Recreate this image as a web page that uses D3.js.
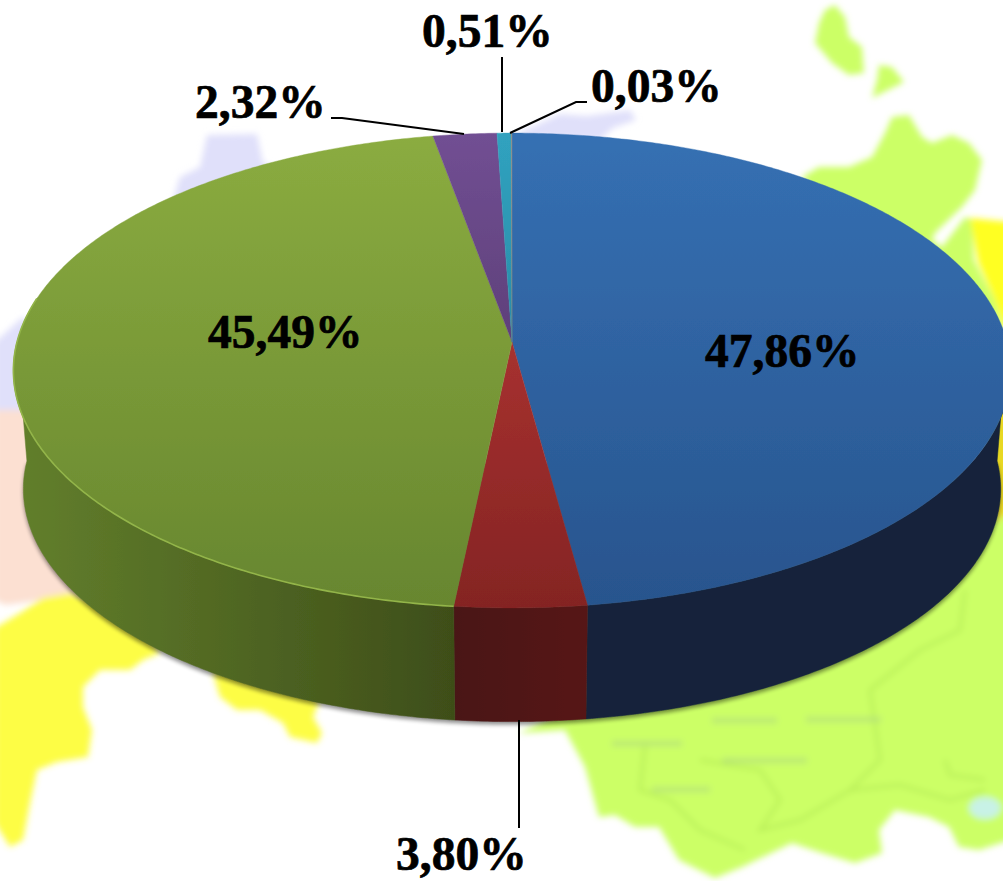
<!DOCTYPE html>
<html>
<head>
<meta charset="utf-8">
<script src="https://cdn.jsdelivr.net/npm/d3@7"></script>
<style>
  html, body { margin: 0; padding: 0; background: #fff; overflow: hidden; }
  svg { display: block; }
  text { font-family: "Liberation Serif", serif; font-weight: bold; fill: #000; stroke: #000; stroke-width: 0.7; }
</style>
</head>
<body>
<div id="chart"></div>
<script>
// Chart data
const sliceNames = ["blue", "red", "green", "purple", "cyan", "grey"];
const sliceValues = [47.86, 3.80, 45.49, 2.32, 0.51, 0.03];

// Colours: top face (far edge, near edge) and side wall (left, right)
const topFar = ["#3570b3", "#c23b39", "#8bac40", "#714f93", "#30a2bf", "#8c8c84"];
const topNear = ["#28548d", "#842423", "#67862f", "#472c5a", "#23708a", "#6f6f68"];
const sideLeft = ["#12233a", "#4a1412", "#627f2c", "#333", "#333", "#333"];
const sideRight = ["#12233a", "#561816", "#3e4e19", "#333", "#333", "#333"];

// Label layout: anchor x, baseline y, leader polyline
const labelSize = 47.5;
const labelLayout = [
  { x: 705, y: 367, leader: null },
  { x: 396, y: 870, leader: [[519, 720], [519, 828]] },
  { x: 208, y: 348, leader: null },
  { x: 195, y: 118, leader: [[331, 118], [342, 118], [464, 134]] },
  { x: 422, y: 47, leader: [[502, 57], [502, 132]] },
  { x: 591, y: 102, leader: [[510, 133], [576, 102], [587, 102]] }
];

const width = 1003, height = 881;

// Perspective model of the tilted disc
const centre = { x: 512, y: 342 };
const persp = -0.12;
const radiusX = 495, radiusY = 234;
const wallDrop = 119, wallScale = 0.98;

function project(angle, drop = 0, scale = 1) {
    const u = Math.sin(angle), t = -Math.cos(angle);
    const w = 1 + persp * t;
    return [centre.x + radiusX * scale * u / w, centre.y + drop + radiusY * scale * t / w];
}

function rim(a0, a1, drop, scale) {
    const n = Math.max(2, Math.ceil((a1 - a0) / 0.01));
    return d3.range(n + 1).map((i) => project(a0 + (a1 - a0) * i / n, drop, scale));
}

const svg = d3.select("#chart").append("svg")
    .attr("width", width)
    .attr("height", height);
const defs = svg.append("defs");

defs.append("filter").attr("id", "mapBlur")
    .attr("x", "-5%").attr("y", "-5%").attr("width", "110%").attr("height", "110%")
    .append("feGaussianBlur").attr("stdDeviation", 3);
defs.append("filter").attr("id", "shadowBlur")
    .attr("x", "-5%").attr("y", "-5%").attr("width", "110%").attr("height", "110%")
    .append("feGaussianBlur").attr("stdDeviation", 2);
defs.append("filter").attr("id", "soft")
    .attr("x", "-2%").attr("y", "-2%").attr("width", "104%").attr("height", "104%")
    .append("feGaussianBlur").attr("stdDeviation", 0.5);

// Faded map behind the pie
const mapShapes = [
    { fill: "#e0e0fa", pts: [[173,200],[180,177],[200,167],[207,135],[257,134],[263,163],[300,175],[230,230]] },
    { fill: "#e0e0fa", pts: [[512,136],[560,114],[587,116],[630,110],[636,120],[613,128],[600,140]] },
    { fill: "#e0e0fa", pts: [[-5,342],[23,317],[40,330],[30,420],[-5,420]] },
    { fill: "#fce0d2", pts: [[-5,410],[30,410],[40,480],[90,590],[72,600],[43,600],[5,605],[-5,600]] },
    { fill: "#fdfd45", pts: [[-5,628],[20,613],[43,598],[72,593],[140,620],[160,653],[143,660],[130,670],[100,670],[83,687],[83,707],[92,730],[88,757],[57,762],[37,770],[30,803],[23,840],[10,847],[-5,823]] },
    { fill: "#fdfd45", pts: [[213,673],[220,697],[237,710],[260,710],[283,723],[290,737],[317,743],[322,733],[313,717],[320,700],[250,650]] },
    { fill: "#ccff66", pts: [[835,5],[845,17],[849,37],[862,47],[864,73],[849,75],[832,63],[815,43],[819,23],[825,10]] },
    { fill: "#ccff66", pts: [[879,65],[892,67],[904,82],[892,88],[872,98],[877,80]] },
    { fill: "#ccff66", pts: [[802,177],[819,167],[849,167],[872,157],[885,133],[892,117],[909,115],[922,137],[932,143],[952,135],[969,143],[982,160],[975,190],[962,207],[935,233],[932,240],[942,247],[965,217],[972,220],[974,260],[995,300],[1003,330],[900,300]] },
    { fill: "#ffff22", pts: [[970,218],[1010,222],[1010,345],[995,300],[978,262]] },
    { fill: "#ccff66", pts: [[519,733],[565,730],[585,767],[599,817],[615,815],[635,827],[659,827],[679,860],[715,878],[742,867],[792,843],[822,853],[855,863],[882,853],[879,830],[895,810],[929,817],[949,827],[959,847],[979,850],[1010,840],[1010,510],[800,600]] },
    { fill: "#e8d820", pts: [[985,400],[1010,400],[1010,512],[996,522]] }
];
const mapLine = d3.line().curve(d3.curveLinearClosed);
const map = svg.append("g").attr("filter", "url(#mapBlur)");
map.selectAll("path.land")
    .data(mapShapes)
    .join("path")
    .attr("class", "land")
    .attr("d", (d) => mapLine(d.pts))
    .attr("fill", (d) => d.fill);

// Faint region borders and the lake
const borders = [
    [[645,745],[640,790],[670,800],[700,830],[745,850]],
    [[700,760],[760,770],[780,800],[760,830],[800,820],[850,790],[880,760],[870,690]],
    [[850,790],[900,785],[950,800],[985,790]],
    [[870,690],[920,650],[960,630],[965,590]],
    [[945,760],[950,775],[985,780]]
];
map.selectAll("path.border")
    .data(borders)
    .join("path")
    .attr("class", "border")
    .attr("d", d3.line())
    .attr("fill", "none")
    .attr("stroke", "#b8ee58")
    .attr("stroke-width", 3);
map.append("ellipse")
    .attr("cx", 985).attr("cy", 808).attr("rx", 16).attr("ry", 11)
    .attr("fill", "#c8f2e6");

// Blurred town names on the map, far too faint to read
const townMarks = [[612,741,70],[712,718,65],[806,717,75],[722,758,85],[652,787,58]];
map.selectAll("rect.town")
    .data(townMarks)
    .join("rect")
    .attr("class", "town")
    .attr("x", (d) => d[0]).attr("y", (d) => d[1])
    .attr("width", (d) => d[2]).attr("height", 5)
    .attr("fill", "#b4e07a").attr("opacity", 0.8);

// Pie slices
const pie = d3.pie().sort(null).value((d) => d.value);
const slices = pie(sliceValues.map((value, i) => ({ name: sliceNames[i], value })));

// Gradients for each slice
slices.forEach((s, i) => {
    const g = defs.append("linearGradient").attr("id", `top-${i}`)
        .attr("gradientUnits", "userSpaceOnUse")
        .attr("x1", 0).attr("x2", 0).attr("y1", 133).attr("y2", 608);
    g.append("stop").attr("offset", 0).attr("stop-color", topFar[i]);
    g.append("stop").attr("offset", 1).attr("stop-color", topNear[i]);

    const a0 = Math.max(s.startAngle, Math.PI / 2), a1 = Math.min(s.endAngle, 3 * Math.PI / 2);
    if (a1 > a0) {
        const w = defs.append("linearGradient").attr("id", `side-${i}`)
            .attr("gradientUnits", "userSpaceOnUse")
            .attr("x1", project(a1)[0]).attr("x2", project(a0)[0]).attr("y1", 0).attr("y2", 0);
        w.append("stop").attr("offset", 0).attr("stop-color", sideLeft[i]);
        w.append("stop").attr("offset", 1).attr("stop-color", sideRight[i]);
    }
});

const line = d3.line();
const pieGroup = svg.append("g").attr("filter", "url(#soft)");

// Shadow under the wall
pieGroup.append("path")
    .attr("d", line(rim(Math.PI / 2, 3 * Math.PI / 2, wallDrop + 3, wallScale)))
    .attr("fill", "#000")
    .attr("opacity", 0.45)
    .attr("filter", "url(#shadowBlur)");

// Side wall, front half only
slices.forEach((s, i) => {
    const a0 = Math.max(s.startAngle, Math.PI / 2), a1 = Math.min(s.endAngle, 3 * Math.PI / 2);
    if (a1 <= a0) return;
    const upper = rim(a0, a1, 0, 1);
    const lower = rim(a0, a1, wallDrop, wallScale).reverse();
    pieGroup.append("path")
        .attr("d", line(upper.concat(lower)) + "Z")
        .attr("fill", `url(#side-${i})`)
        .attr("stroke", `url(#side-${i})`)
        .attr("stroke-width", 0.5);
});

// Top face
pieGroup.selectAll("path.slice")
    .data(slices)
    .join("path")
    .attr("class", "slice")
    .attr("d", (d) => line([[centre.x, centre.y]].concat(rim(d.startAngle, d.endAngle, 0, 1))) + "Z")
    .attr("fill", (d) => `url(#top-${d.index})`)
    .attr("stroke", (d) => `url(#top-${d.index})`)
    .attr("stroke-width", 0.4);

// Light bevel along the green rim
const green = slices[2];
pieGroup.append("path")
    .attr("d", line(rim(green.startAngle, green.endAngle - 1.2, 0, 1)))
    .attr("fill", "none")
    .attr("stroke", "#93b54a")
    .attr("stroke-width", 1.6);

// Labels
const fmt = d3.formatLocale({ decimal: ",", thousands: " ", grouping: [3], currency: ["", ""] }).format(".2f");

svg.selectAll("path.leader")
    .data(labelLayout.filter((d) => d.leader))
    .join("path")
    .attr("class", "leader")
    .attr("d", (d) => line(d.leader))
    .attr("fill", "none")
    .attr("stroke", "#000")
    .attr("stroke-width", 2);

svg.selectAll("text.value")
    .data(sliceValues)
    .join("text")
    .attr("class", "value")
    .attr("x", (d, i) => labelLayout[i].x)
    .attr("y", (d, i) => labelLayout[i].y)
    .attr("font-size", labelSize)
    .text((d) => fmt(d) + "%");
</script>
</body>
</html>
